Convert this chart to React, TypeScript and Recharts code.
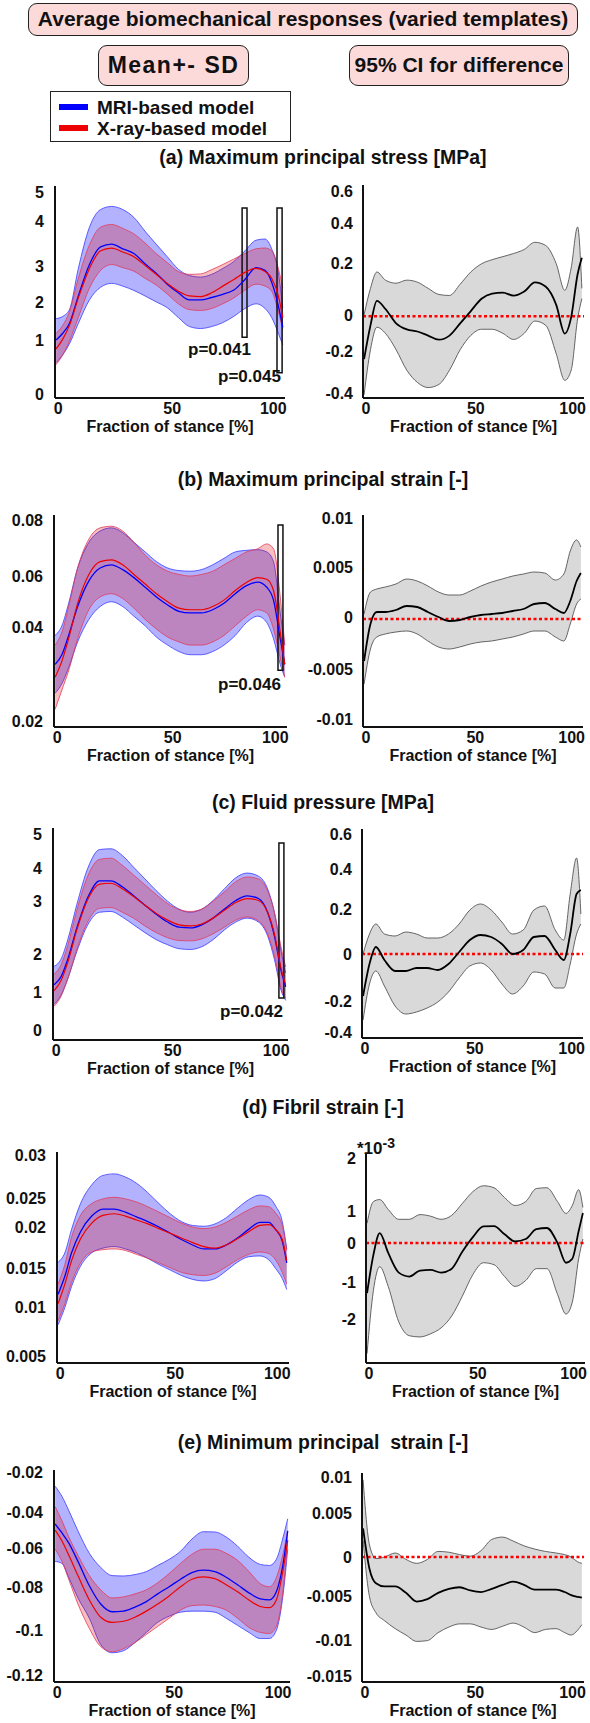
import React from "react";
import {
  ComposedChart,
  Area,
  Line,
  XAxis,
  YAxis,
  ReferenceLine,
  ReferenceArea,
} from "recharts";

// fraction of stance [%]
const stance = [0, 3, 6, 10, 15, 20, 25, 30, 35, 40, 45, 50, 55, 60, 65, 70, 75, 80, 85, 90, 94, 97, 100, 102];
const xTicks = [0, 50, 100];

// (a) Maximum principal stress [MPa]
const aMriMean = [1.18, 1.35, 1.6, 2.3, 3.1, 3.55, 3.62, 3.5, 3.38, 3.12, 2.88, 2.6, 2.38, 2.2, 2.2, 2.26, 2.34, 2.45, 2.72, 3.02, 2.95, 2.65, 2.05, 1.5];
const aMriLo = [0.6, 0.8, 1.08, 1.6, 2.2, 2.52, 2.62, 2.55, 2.44, 2.3, 2.15, 2.0, 1.75, 1.52, 1.47, 1.52, 1.62, 1.78, 1.98, 2.1, 1.98, 1.75, 1.35, 1.05];
const aMriHi = [1.72, 1.78, 1.95, 3.0, 4.05, 4.5, 4.58, 4.5, 4.3, 3.95, 3.62, 3.3, 2.98, 2.82, 2.78, 2.85, 3.0, 3.18, 3.45, 3.72, 3.75, 3.5, 2.9, 2.0];
const aXrMean = [0.95, 1.2, 1.55, 2.25, 3.0, 3.45, 3.52, 3.42, 3.3, 3.08, 2.85, 2.62, 2.42, 2.3, 2.28, 2.38, 2.55, 2.72, 2.9, 3.0, 2.92, 2.75, 2.3, 1.75];
const aXrLo = [0.55, 0.8, 1.15, 1.75, 2.5, 2.95, 3.1, 3.02, 2.93, 2.75, 2.58, 2.35, 2.1, 1.95, 1.93, 1.98, 2.1, 2.25, 2.45, 2.6, 2.55, 2.42, 1.9, 1.45];
const aXrHi = [1.35, 1.55, 1.9, 2.75, 3.6, 4.05, 4.12, 4.02, 3.88, 3.65, 3.38, 3.15, 2.92, 2.85, 2.86, 2.97, 3.1, 3.24, 3.38, 3.5, 3.52, 3.45, 3.0, 2.5];
const aDiffMean = [-0.21, -0.045, 0.075, 0.035, -0.035, -0.065, -0.075, -0.095, -0.115, -0.095, -0.035, 0.025, 0.085, 0.11, 0.115, 0.1, 0.12, 0.165, 0.145, 0.055, -0.085, -0.005, 0.205, 0.285];
const aDiffLo = [-0.384, -0.164, -0.054, -0.084, -0.164, -0.264, -0.324, -0.349, -0.334, -0.264, -0.164, -0.094, -0.064, -0.064, -0.084, -0.114, -0.084, -0.024, -0.044, -0.184, -0.314, -0.264, -0.014, 0.086];
const aDiffHi = [0.006, 0.136, 0.216, 0.176, 0.161, 0.176, 0.166, 0.136, 0.106, 0.101, 0.156, 0.216, 0.256, 0.276, 0.291, 0.306, 0.326, 0.361, 0.346, 0.256, 0.126, 0.236, 0.436, 0.136];
const aMarkers = [
  { x1: 83.7, x2: 85.9, y1: 1.25, y2: 4.54 },
  { x1: 99.4, x2: 101.7, y1: 0.34, y2: 4.54 },
];

// (b) Maximum principal strain [-]
const bMriMean = [0.034, 0.037, 0.043, 0.052, 0.06, 0.064, 0.065, 0.0635, 0.061, 0.058, 0.055, 0.0525, 0.0505, 0.05, 0.05, 0.051, 0.053, 0.056, 0.0585, 0.0596, 0.058, 0.054, 0.042, 0.034];
const bMriLo = [0.025, 0.028, 0.033, 0.041, 0.048, 0.052, 0.0535, 0.052, 0.049, 0.046, 0.0425, 0.04, 0.038, 0.037, 0.037, 0.038, 0.04, 0.043, 0.047, 0.049, 0.047, 0.042, 0.034, 0.03];
const bMriHi = [0.043, 0.046, 0.053, 0.064, 0.072, 0.0755, 0.0765, 0.075, 0.072, 0.069, 0.066, 0.064, 0.0632, 0.063, 0.0635, 0.065, 0.067, 0.069, 0.0695, 0.0697, 0.069, 0.066, 0.05, 0.04];
const bXrMean = [0.03, 0.035, 0.042, 0.053, 0.062, 0.066, 0.0665, 0.065, 0.062, 0.059, 0.056, 0.0535, 0.0515, 0.051, 0.051, 0.052, 0.054, 0.057, 0.0595, 0.061, 0.0605, 0.057, 0.044, 0.034];
const bXrLo = [0.02, 0.026, 0.032, 0.042, 0.051, 0.055, 0.056, 0.0545, 0.0515, 0.048, 0.045, 0.0425, 0.041, 0.04, 0.04, 0.041, 0.043, 0.046, 0.049, 0.051, 0.05, 0.045, 0.036, 0.03];
const bXrHi = [0.04, 0.044, 0.052, 0.064, 0.073, 0.0765, 0.077, 0.0755, 0.072, 0.068, 0.065, 0.063, 0.062, 0.0615, 0.062, 0.063, 0.065, 0.067, 0.069, 0.07, 0.0715, 0.07, 0.055, 0.04];
const bDiffMean = [-0.0042, -0.0005, 0.0007, 0.0007, 0.0009, 0.0013, 0.0012, 0.0007, 0.0002, -0.0002, -0.0001, 0.0002, 0.0004, 0.0005, 0.0006, 0.0008, 0.001, 0.0015, 0.0016, 0.001, 0.0006, 0.0018, 0.0038, 0.0046];
const bDiffLo = [-0.0065, -0.003, -0.0018, -0.0015, -0.0013, -0.0012, -0.0015, -0.0022, -0.0028, -0.003, -0.0028, -0.0025, -0.0023, -0.0022, -0.002, -0.0018, -0.0015, -0.0012, -0.0012, -0.0018, -0.0022, -0.0005, 0.0015, 0.002];
const bDiffHi = [0.0005, 0.0027, 0.003, 0.0032, 0.0035, 0.004, 0.0038, 0.0033, 0.0027, 0.0024, 0.0024, 0.0028, 0.0033, 0.0037, 0.004, 0.0043, 0.0045, 0.0047, 0.0046, 0.0039, 0.0045, 0.0068, 0.0079, 0.0072];
const bMarkers = [{ x1: 99.0, x2: 101.2, y1: 0.0322, y2: 0.0774 }];

// (c) Fluid pressure [MPa]
const cMriMean = [1.15, 1.35, 1.8, 2.6, 3.4, 3.8, 3.8, 3.65, 3.42, 3.18, 2.95, 2.75, 2.62, 2.6, 2.68, 2.85, 3.08, 3.3, 3.42, 3.35, 3.0, 2.4, 1.5, 1.1];
const cMriLo = [0.65, 0.88, 1.3, 2.0, 2.7, 3.0, 3.02, 2.88, 2.68, 2.48, 2.3, 2.17, 2.07, 2.05, 2.12, 2.3, 2.55, 2.75, 2.85, 2.75, 2.4, 1.8, 1.0, 0.75];
const cMriHi = [1.62, 1.8, 2.3, 3.2, 4.15, 4.6, 4.62, 4.45, 4.15, 3.85, 3.55, 3.28, 3.08, 3.0, 3.08, 3.3, 3.6, 3.88, 4.0, 3.92, 3.6, 3.0, 2.0, 1.45];
const cXrMean = [1.0, 1.25, 1.72, 2.55, 3.35, 3.72, 3.74, 3.6, 3.4, 3.18, 2.97, 2.8, 2.68, 2.65, 2.7, 2.85, 3.05, 3.25, 3.35, 3.3, 3.0, 2.45, 1.55, 1.15];
const cXrLo = [0.6, 0.85, 1.3, 2.05, 2.78, 3.1, 3.12, 3.0, 2.85, 2.65, 2.48, 2.35, 2.28, 2.27, 2.32, 2.45, 2.62, 2.8, 2.88, 2.78, 2.45, 1.9, 1.05, 0.8];
const cXrHi = [1.42, 1.65, 2.15, 3.05, 3.95, 4.35, 4.38, 4.2, 3.95, 3.7, 3.45, 3.22, 3.07, 3.02, 3.08, 3.28, 3.52, 3.78, 3.9, 3.85, 3.55, 3.0, 2.1, 1.6];
const cDiffMean = [-0.21, -0.05, 0.035, -0.03, -0.085, -0.085, -0.07, -0.07, -0.08, -0.05, 0.01, 0.07, 0.095, 0.085, 0.05, 0.0, 0.02, 0.085, 0.09, 0.02, -0.03, 0.1, 0.3, 0.32];
const cDiffLo = [-0.33, -0.15, -0.085, -0.16, -0.26, -0.3, -0.29, -0.27, -0.24, -0.19, -0.12, -0.06, -0.045, -0.08, -0.15, -0.2, -0.16, -0.09, -0.1, -0.17, -0.17, -0.05, 0.1, 0.15];
const cDiffHi = [0.0, 0.1, 0.15, 0.1, 0.09, 0.11, 0.1, 0.08, 0.08, 0.1, 0.15, 0.22, 0.25, 0.22, 0.16, 0.1, 0.12, 0.22, 0.24, 0.12, 0.07, 0.3, 0.48, 0.2];
const cMarkers = [{ x1: 99.0, x2: 101.2, y1: 0.81, y2: 4.77 }];

// (d) Fibril strain [-]
const dMriMean = [0.0122, 0.0145, 0.0175, 0.0202, 0.0222, 0.0231, 0.0231, 0.0227, 0.0221, 0.0215, 0.0208, 0.02, 0.0192, 0.0185, 0.018, 0.018, 0.0185, 0.0194, 0.0205, 0.0214, 0.0214, 0.0205, 0.019, 0.0162];
const dMriLo = [0.0083, 0.0105, 0.0132, 0.0158, 0.0175, 0.0181, 0.0183, 0.018, 0.0175, 0.0168, 0.016, 0.0153, 0.0146, 0.0141, 0.0139, 0.0142, 0.0152, 0.0163, 0.017, 0.0171, 0.0166, 0.0155, 0.0142, 0.0128];
const dMriHi = [0.0163, 0.0175, 0.0205, 0.0238, 0.0262, 0.0274, 0.0276, 0.0272, 0.0264, 0.0252, 0.0238, 0.0225, 0.0215, 0.021, 0.0209, 0.0212, 0.022, 0.0232, 0.0243, 0.0249, 0.0246, 0.0235, 0.0215, 0.018];
const dXrMean = [0.011, 0.0135, 0.0165, 0.0193, 0.0213, 0.0223, 0.0225, 0.0222, 0.0217, 0.0212, 0.0206, 0.02, 0.0194, 0.0188, 0.0183, 0.0181, 0.0185, 0.0193, 0.0202, 0.021, 0.0211, 0.0205, 0.0192, 0.0165];
const dXrLo = [0.0088, 0.011, 0.0137, 0.0162, 0.0176, 0.0179, 0.018, 0.0178, 0.0173, 0.0168, 0.0162, 0.0156, 0.015, 0.0147, 0.0146, 0.0149, 0.0157, 0.0166, 0.0173, 0.0176, 0.0174, 0.0166, 0.015, 0.0135];
const dXrHi = [0.0135, 0.016, 0.0195, 0.0223, 0.0238, 0.0244, 0.0246, 0.0244, 0.024, 0.0234, 0.0227, 0.022, 0.0213, 0.0208, 0.0206, 0.0208, 0.0214, 0.0222, 0.023, 0.0235, 0.0234, 0.0226, 0.021, 0.0178];
// right panel in units of 1e-3
const dDiffMean = [-1.27, -0.3, 0.25, -0.25, -0.75, -0.85, -0.7, -0.68, -0.75, -0.65, -0.22, 0.15, 0.42, 0.43, 0.22, 0.04, 0.1, 0.35, 0.38, 0.0, -0.5, -0.4, 0.3, 0.76];
const dDiffLo = [-2.8, -1.2, -0.6, -1.1, -2.0, -2.35, -2.38, -2.3, -2.15, -1.85, -1.35, -0.8, -0.5, -0.55, -0.85, -1.1, -0.95, -0.65, -0.65, -1.3, -1.8, -1.5, -0.4, 0.1];
const dDiffHi = [0.5, 1.05, 1.1, 0.85, 0.6, 0.6, 0.72, 0.68, 0.6, 0.7, 1.0, 1.3, 1.45, 1.4, 1.15, 0.95, 1.05, 1.38, 1.4, 1.05, 0.75, 0.95, 1.35, 0.9];

// (e) Minimum principal strain [-]
const eMriMean = [-0.0456, -0.05, -0.055, -0.064, -0.076, -0.085, -0.0888, -0.0885, -0.0865, -0.0838, -0.08, -0.0765, -0.0728, -0.0695, -0.0683, -0.069, -0.0718, -0.0755, -0.0795, -0.0825, -0.083, -0.079, -0.065, -0.049];
const eMriLo = [-0.064, -0.065, -0.072, -0.082, -0.092, -0.105, -0.109, -0.108, -0.104, -0.099, -0.094, -0.091, -0.089, -0.0885, -0.0885, -0.089, -0.092, -0.0955, -0.099, -0.102, -0.102, -0.098, -0.08, -0.058];
const eMriHi = [-0.027, -0.032, -0.039, -0.049, -0.06, -0.067, -0.071, -0.0712, -0.0705, -0.069, -0.066, -0.063, -0.059, -0.053, -0.0494, -0.0495, -0.052, -0.0565, -0.062, -0.0655, -0.066, -0.063, -0.052, -0.043];
const eXrMean = [-0.0486, -0.054, -0.061, -0.071, -0.083, -0.0915, -0.094, -0.0935, -0.0915, -0.0885, -0.085, -0.081, -0.0765, -0.0728, -0.0716, -0.0725, -0.0755, -0.079, -0.083, -0.0862, -0.0868, -0.083, -0.068, -0.0535];
const eXrLo = [-0.058, -0.064, -0.073, -0.085, -0.097, -0.106, -0.1085, -0.107, -0.104, -0.1, -0.096, -0.092, -0.088, -0.0858, -0.0855, -0.0862, -0.088, -0.092, -0.0965, -0.099, -0.0995, -0.096, -0.078, -0.054];
const eXrHi = [-0.037, -0.044, -0.052, -0.061, -0.071, -0.078, -0.082, -0.0815, -0.08, -0.078, -0.0745, -0.07, -0.065, -0.0605, -0.058, -0.058, -0.06, -0.0635, -0.069, -0.075, -0.0765, -0.072, -0.06, -0.049];
const eDiffMean = [0.0036, -0.0015, -0.0033, -0.0037, -0.0037, -0.0045, -0.0056, -0.0053, -0.0045, -0.004, -0.0038, -0.0042, -0.0044, -0.004, -0.0035, -0.0031, -0.0035, -0.0041, -0.0041, -0.0041, -0.0044, -0.0048, -0.005, -0.0051];
const eDiffLo = [0.0021, -0.005, -0.007, -0.008, -0.009, -0.0098, -0.0106, -0.0105, -0.0095, -0.0088, -0.0084, -0.0084, -0.0088, -0.0091, -0.0087, -0.0083, -0.0088, -0.0095, -0.0091, -0.009, -0.0095, -0.0098, -0.0092, -0.0085];
const eDiffHi = [0.0097, 0.0015, -0.0002, 0.0, 0.0005, -0.0003, -0.0008, -0.0003, 0.0007, 0.0006, 0.0003, 0.0001, 0.0008, 0.0022, 0.0025, 0.002, 0.0014, 0.001, 0.0007, 0.0005, 0.0003, 0.0, -0.0006, -0.0008];

const FONT = '"Liberation Sans", Arial, Helvetica, sans-serif';
const INK = "#111";
const MT = 12;
const XH = 46;
const X_DOMAIN: [number, number] = [-0.5, 103];

// the figure's tick labels were placed by hand, a few px off the scale
type Nudge = Record<string, number>;
const xNudge: Nudge = { "0": 2, "50": 5, "100": -5 };
const aLeftNudge: Nudge = { "5": 2, "4": -8, "3": -2, "2": -5, "1": -7, "0": 8 };
const aRightNudge: Nudge = { "0.6": -2, "0.4": -11, "0.2": -12, "0": -1, "-0.2": -6, "-0.4": -5 };
const bLeftNudge: Nudge = { "0.08": 4, "0.06": -5, "0.04": -18, "0.02": 12 };
const bRightNudge: Nudge = { "0.01": -1, "0.005": -2, "0": -2 };
const cLeftNudge: Nudge = { "4": -5, "3": -11, "2": 3, "1": 2, "0": 1 };
const cRightNudge: Nudge = { "0.4": -5, "0.2": -5, "-0.2": 7, "-0.4": -2 };
const dLeftNudge: Nudge = { "0.025": 4, "0.02": -6, "0.015": -4, "0.01": -4, "0.005": 6 };
const dRightNudge: Nudge = { "2": -6, "1": 8, "-2": -3 };
const eLeftNudge: Nudge = { "-0.06": -5, "-0.08": -7, "-0.1": -4 };
const eRightNudge: Nudge = { "0.005": -4, "-0.01": 4 };

type Frame = [number, number, number, number];
type Marker = { x1: number; x2: number; y1: number; y2: number };

const tickStyle = { fill: INK, fontSize: 16, fontWeight: 700, fontFamily: FONT };
const frameLine = { stroke: INK, strokeWidth: 2 };

function StanceTick(props: any) {
  const { x, y, payload } = props;
  return (
    <text x={x + (xNudge[String(payload.value)] ?? 0)} y={y} dy="0.71em" textAnchor="middle" {...tickStyle}>
      {payload.value}
    </text>
  );
}

function ValueTick(props: any) {
  const { x, y, payload, nudge } = props;
  const dy = (nudge && nudge[String(payload.value)]) || 0;
  return (
    <text x={x} y={y + dy} dy="0.355em" textAnchor="end" {...tickStyle}>
      {payload.value}
    </text>
  );
}

function MeanSdChart(props: {
  frame: Frame;
  yDomain: [number, number];
  yTicks: number[];
  nudge: Nudge;
  mri: number[][];
  xr: number[][];
  markers?: Marker[];
}) {
  const { frame, yDomain, yTicks, nudge, mri, xr, markers = [] } = props;
  const [x0, y0, x1, y1] = frame;
  const rows = stance.map((x, i) => ({
    x,
    mriBand: [mri[1][i], mri[2][i]],
    xrBand: [xr[1][i], xr[2][i]],
    mri: mri[0][i],
    xr: xr[0][i],
  }));
  return (
    <div style={{ position: "absolute", left: 0, top: y0 - MT }}>
      <ComposedChart
        width={x1 + 22}
        height={y1 - y0 + MT + XH}
        data={rows}
        margin={{ top: MT, right: 22, bottom: 0, left: 0 }}
      >
        <XAxis
          dataKey="x"
          type="number"
          domain={X_DOMAIN}
          ticks={xTicks}
          interval={0}
          allowDataOverflow
          height={XH}
          tickLine={false}
          tickSize={2}
          tickMargin={3}
          axisLine={frameLine}
          tick={<StanceTick />}
          label={{ value: "Fraction of stance [%]", position: "insideBottom", offset: 12, ...tickStyle }}
        />
        <XAxis xAxisId="top" orientation="top" dataKey="x" type="number" domain={X_DOMAIN} allowDataOverflow height={0} tick={false} tickLine={false} axisLine={frameLine} />
        <YAxis
          type="number"
          domain={yDomain}
          ticks={yTicks}
          interval={0}
          allowDataOverflow
          width={x0}
          tickLine={false}
          tickSize={8}
          tickMargin={3}
          axisLine={frameLine}
          tick={<ValueTick nudge={nudge} />}
        />
        <YAxis yAxisId="right" orientation="right" type="number" domain={yDomain} allowDataOverflow width={0} tick={false} tickLine={false} axisLine={frameLine} />
        <Area dataKey="mriBand" type="monotone" fill="#0000ff" fillOpacity={0.3} stroke="#3a3aff" strokeWidth={0.8} isAnimationActive={false} />
        <Area dataKey="xrBand" type="monotone" fill="#e00000" fillOpacity={0.25} stroke="#e23a5a" strokeWidth={0.8} isAnimationActive={false} />
        <Line dataKey="mri" type="monotone" stroke="#0000ff" strokeWidth={1.3} dot={false} isAnimationActive={false} />
        <Line dataKey="xr" type="monotone" stroke="#ee0000" strokeWidth={1.2} dot={false} isAnimationActive={false} />
        {markers.map((m, i) => (
          <ReferenceArea key={i} x1={m.x1} x2={m.x2} y1={m.y1} y2={m.y2} fill="none" stroke={INK} strokeWidth={1.5} ifOverflow="visible" />
        ))}
      </ComposedChart>
    </div>
  );
}

function DiffChart(props: {
  frame: Frame;
  yDomain: [number, number];
  yTicks: number[];
  nudge: Nudge;
  diff: number[][];
}) {
  const { frame, yDomain, yTicks, nudge, diff } = props;
  const [x0, y0, x1, y1] = frame;
  const left = 295;
  const rows = stance.map((x, i) => ({ x, ci: [diff[1][i], diff[2][i]], mean: diff[0][i] }));
  return (
    <div style={{ position: "absolute", left, top: y0 - MT }}>
      <ComposedChart
        width={590 - left}
        height={y1 - y0 + MT + XH}
        data={rows}
        margin={{ top: MT, right: 590 - x1, bottom: 0, left: 0 }}
      >
        <XAxis
          dataKey="x"
          type="number"
          domain={X_DOMAIN}
          ticks={xTicks}
          interval={0}
          allowDataOverflow
          height={XH}
          tickLine={false}
          tickSize={2}
          tickMargin={3}
          axisLine={frameLine}
          tick={<StanceTick />}
          label={{ value: "Fraction of stance [%]", position: "insideBottom", offset: 12, ...tickStyle }}
        />
        <XAxis xAxisId="top" orientation="top" dataKey="x" type="number" domain={X_DOMAIN} allowDataOverflow height={0} tick={false} tickLine={false} axisLine={frameLine} />
        <YAxis
          type="number"
          domain={yDomain}
          ticks={yTicks}
          interval={0}
          allowDataOverflow
          width={x0 - left}
          tickLine={false}
          tickSize={7}
          tickMargin={3}
          axisLine={frameLine}
          tick={<ValueTick nudge={nudge} />}
        />
        <YAxis yAxisId="right" orientation="right" type="number" domain={yDomain} allowDataOverflow width={0} tick={false} tickLine={false} axisLine={frameLine} />
        <Area dataKey="ci" type="monotone" fill="#d9d9d9" fillOpacity={1} stroke="#555" strokeWidth={0.9} isAnimationActive={false} />
        <ReferenceLine y={0} stroke="#ff0000" strokeWidth={2.5} strokeDasharray="3 2.5" />
        <Line dataKey="mean" type="monotone" stroke="#000" strokeWidth={1.8} dot={false} isAnimationActive={false} />
      </ComposedChart>
    </div>
  );
}

const panelTitles = [
  "(a) Maximum principal stress [MPa]",
  "(b) Maximum principal strain [-]",
  "(c) Fluid pressure [MPa]",
  "(d) Fibril strain [-]",
  "(e) Minimum principal  strain [-]",
];
const titleY = [158, 480, 803, 1108, 1443];
const pValues = ["p=0.041", "p=0.045", "p=0.046", "p=0.042"];

const pillStyle: React.CSSProperties = {
  position: "absolute",
  background: "#fcdada",
  border: "1.5px solid #222",
  borderRadius: 9,
  boxSizing: "border-box",
  fontWeight: 700,
  color: INK,
  textAlign: "center",
  whiteSpace: "nowrap",
};

function Text(props: { x: number; y: number; size: number; children: React.ReactNode; w?: number; align?: "left" | "center" | "right" }) {
  const { x, y, size, w = 0, align = "left" } = props;
  return (
    <div
      style={{
        position: "absolute",
        left: x,
        top: y - size * 0.6,
        width: w || undefined,
        fontSize: size,
        lineHeight: `${size * 1.2}px`,
        fontWeight: 700,
        color: INK,
        textAlign: align,
        whiteSpace: "pre",
      }}
    >
      {props.children}
    </div>
  );
}

export default function App() {
  return (
    <div style={{ position: "absolute", left: 0, top: 0, width: 590, height: 1723, background: "#fff", fontFamily: FONT, overflow: "hidden" }}>
      {/* header */}
      <div style={{ ...pillStyle, left: 28, top: 3, width: 550, height: 33, fontSize: 21, lineHeight: "30px" }}>
        Average biomechanical responses (varied templates)
      </div>
      <div style={{ ...pillStyle, left: 98, top: 45, width: 151, height: 41, fontSize: 23, lineHeight: "38px", letterSpacing: 1.5 }}>
        Mean+- SD
      </div>
      <div style={{ ...pillStyle, left: 349, top: 45, width: 220, height: 41, fontSize: 21, lineHeight: "38px" }}>
        95% CI for difference
      </div>

      {/* legend */}
      <div style={{ position: "absolute", left: 50, top: 91, width: 241, height: 51, border: "1.5px solid #222", boxSizing: "border-box", background: "#fff" }} />
      <div style={{ position: "absolute", left: 59, top: 104, width: 29, height: 6, background: "#0000ff" }} />
      <div style={{ position: "absolute", left: 59, top: 125, width: 29, height: 6, background: "#ee0000" }} />
      <Text x={97} y={108} size={19}>MRI-based model</Text>
      <Text x={97} y={129} size={19}>X-ray-based model</Text>

      {panelTitles.map((t, i) => (
        <Text key={t} x={123} y={titleY[i]} size={19.5} w={400} align="center">{t}</Text>
      ))}

      <MeanSdChart frame={[55, 186, 285, 398]} yDomain={[-0.3, 5.1]} yTicks={[0, 1, 2, 3, 4, 5]} nudge={aLeftNudge} mri={[aMriMean, aMriLo, aMriHi]} xr={[aXrMean, aXrLo, aXrHi]} markers={aMarkers} />
      <DiffChart frame={[363, 185, 584, 398]} yDomain={[-0.4, 0.641]} yTicks={[-0.4, -0.2, 0, 0.2, 0.4, 0.6]} nudge={aRightNudge} diff={[aDiffMean, aDiffLo, aDiffHi]} />

      <MeanSdChart frame={[54, 515, 287, 727]} yDomain={[0.0145, 0.0805]} yTicks={[0.02, 0.04, 0.06, 0.08]} nudge={bLeftNudge} mri={[bMriMean, bMriLo, bMriHi]} xr={[bXrMean, bXrLo, bXrHi]} markers={bMarkers} />
      <DiffChart frame={[363, 515, 583, 727]} yDomain={[-0.0108, 0.0104]} yTicks={[-0.01, -0.005, 0, 0.005, 0.01]} nudge={bRightNudge} diff={[bDiffMean, bDiffLo, bDiffHi]} />

      <MeanSdChart frame={[53, 828, 288, 1040]} yDomain={[-0.26, 5.15]} yTicks={[0, 1, 2, 3, 4, 5]} nudge={cLeftNudge} mri={[cMriMean, cMriLo, cMriHi]} xr={[cXrMean, cXrLo, cXrHi]} markers={cMarkers} />
      <DiffChart frame={[362, 829, 583, 1038]} yDomain={[-0.42, 0.625]} yTicks={[-0.4, -0.2, 0, 0.2, 0.4, 0.6]} nudge={cRightNudge} diff={[cDiffMean, cDiffLo, cDiffHi]} />

      <MeanSdChart frame={[57, 1152, 289, 1363]} yDomain={[0.0034, 0.0304]} yTicks={[0.005, 0.01, 0.015, 0.02, 0.025, 0.03]} nudge={dLeftNudge} mri={[dMriMean, dMriLo, dMriHi]} xr={[dXrMean, dXrLo, dXrHi]} />
      <DiffChart frame={[366, 1153, 585, 1363]} yDomain={[-3.04, 2.28]} yTicks={[-2, -1, 0, 1, 2]} nudge={dRightNudge} diff={[dDiffMean, dDiffLo, dDiffHi]} />

      <MeanSdChart frame={[54, 1470, 290, 1682]} yDomain={[-0.1234, -0.019]} yTicks={[-0.12, -0.1, -0.08, -0.06, -0.04, -0.02]} nudge={eLeftNudge} mri={[eMriMean, eMriLo, eMriHi]} xr={[eXrMean, eXrLo, eXrHi]} />
      <DiffChart frame={[362, 1473, 584, 1682]} yDomain={[-0.0157, 0.01055]} yTicks={[-0.015, -0.01, -0.005, 0, 0.005, 0.01]} nudge={eRightNudge} diff={[eDiffMean, eDiffLo, eDiffHi]} />

      {/* significance labels */}
      <Text x={188} y={350} size={17}>{pValues[0]}</Text>
      <Text x={218} y={377} size={17}>{pValues[1]}</Text>
      <Text x={218} y={685} size={17}>{pValues[2]}</Text>
      <Text x={220} y={1012} size={17}>{pValues[3]}</Text>

      {/* exponent note for (d) right */}
      <div style={{ position: "absolute", left: 357, top: 1133, fontSize: 17, fontWeight: 700, color: INK, lineHeight: "20px" }}>
        *10<sup style={{ fontSize: 14, verticalAlign: 6 }}>-3</sup>
      </div>
    </div>
  );
}
